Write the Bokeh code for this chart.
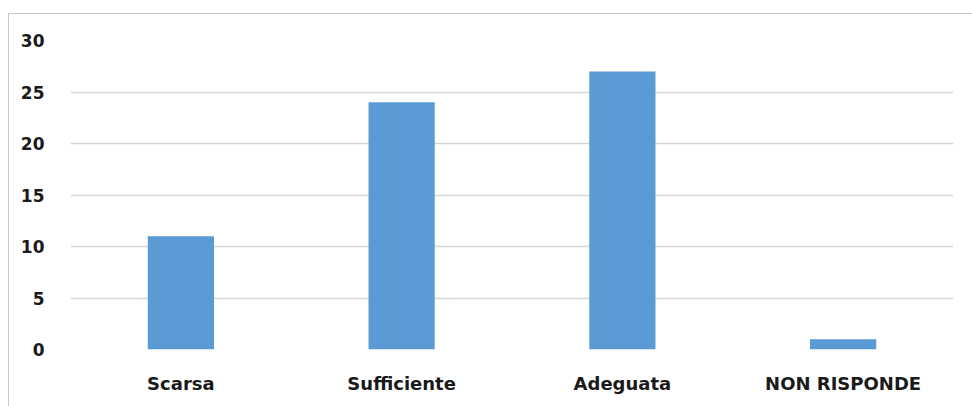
from bokeh.plotting import figure
from bokeh.models import Range1d, FixedTicker
from bokeh.embed import file_html
from bokeh.resources import INLINE

categories = ["Scarsa", "Sufficiente", "Adeguata", "NON RISPONDE"]
values = [11, 24, 27, 1]
y_ticks = [0, 5, 10, 15, 20, 25, 30]

p = figure(x_range=categories, y_range=Range1d(0, 30), width=964, height=393,
           output_backend="svg", toolbar_location=None,
           min_border_left=61, min_border_right=20, min_border_top=26, min_border_bottom=58)
p.margin = (13, 0, 0, 8)
p.styles = {"border-left": "1px solid #c6c6c6", "border-top": "1px solid #c6c6c6"}
p.outline_line_color = None
p.background_fill_color = "white"

p.vbar(x=categories, top=values, width=0.3, color="#5B9BD5", line_color=None)

p.yaxis.ticker = FixedTicker(ticks=y_ticks)
for ax in (p.xaxis, p.yaxis):
    ax.axis_line_color = None
    ax.major_tick_line_color = None
    ax.minor_tick_line_color = None
    ax.major_label_text_font = "DejaVu Sans"
    ax.major_label_text_font_style = "bold"
    ax.major_label_text_color = "#1a1a1a"
p.yaxis.major_label_text_font_size = "17px"
p.xaxis.major_label_text_font_size = "18px"
p.yaxis.major_label_standoff = 20
p.xaxis.major_label_standoff = 17
p.xgrid.grid_line_color = None
p.ygrid.grid_line_color = "#d6d6d6"
p.ygrid.grid_line_width = 1.5
p.x_range.range_padding = 0

open("out.html", "w").write(file_html(p, INLINE))
